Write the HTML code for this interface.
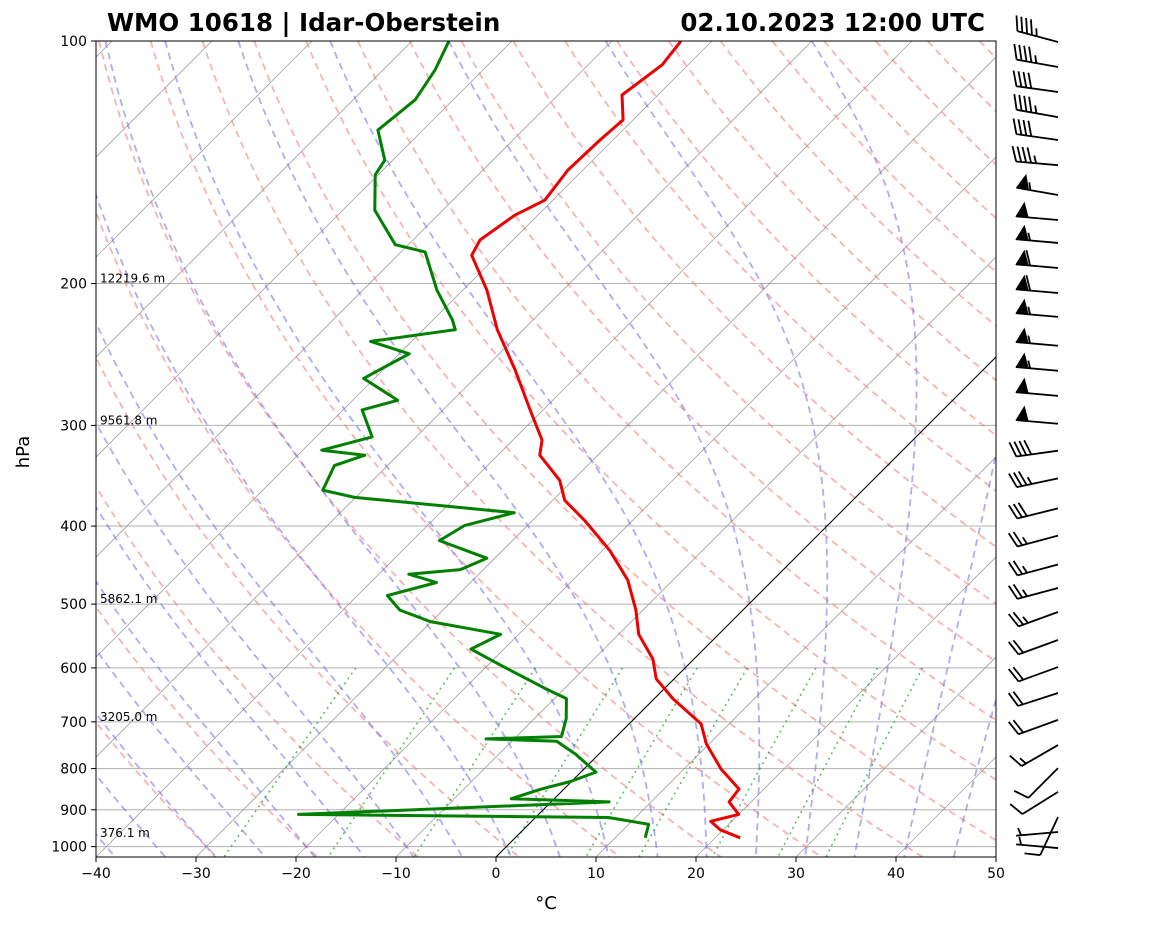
<!DOCTYPE html>
<html><head><meta charset="utf-8">
<style>
html,body{margin:0;padding:0;background:#fff;}
svg text{font-family:"DejaVu Sans","Liberation Sans",sans-serif;}
</style></head>
<body>
<svg id="chart" width="1160" height="925" viewBox="0 0 1160 925" xmlns="http://www.w3.org/2000/svg">
<defs><clipPath id="plotclip"><rect x="96" y="41" width="900" height="816"/></clipPath></defs>
<rect width="1160" height="925" fill="#fff"/>
<g id="bg" clip-path="url(#plotclip)"></g>
<g id="series" clip-path="url(#plotclip)"></g>
<rect x="96" y="41" width="900" height="816" fill="none" stroke="#000" stroke-width="1"/>
<g id="axes"></g>
<g id="barbs"></g>
<text x="107" y="31" font-size="24.5" font-weight="bold">WMO 10618 | Idar-Oberstein</text>
<text x="985" y="31" font-size="24.5" font-weight="bold" text-anchor="end">02.10.2023 12:00 UTC</text>
<text x="0" y="0" font-size="18" text-anchor="middle" transform="translate(29,452) rotate(-90)">hPa</text>
<text x="546" y="909" font-size="18" text-anchor="middle">°C</text>
</svg>
<script>
// ---- data ----
const tempP = [100,107,116.7,125.3,132.7,144.6,157.6,164.5,176.6,184.5,203.8,228.2,256,287,312.8,326.7,351,371.6,393.6,428.7,467,508.6,545,585,619,655.5,704,745,801,848,880,912,930,953,975];
const tempT = [-63.1,-62.6,-63.6,-61,-61.3,-61.5,-60.8,-62.3,-63.3,-62.6,-57.6,-52.6,-46.8,-41.3,-37.1,-35.8,-31.3,-28.8,-24.8,-19.3,-14.5,-10.7,-8,-4.1,-1.8,1.9,7.2,9.7,13.7,17.5,17.8,20,17.9,19.7,22.5];
const dewP = [100,108.6,118.3,129,140.6,146.6,162.2,179,182.7,203.8,221.8,228.2,236,244.5,262.3,279.2,287,310,322,326.7,336.5,361,368.5,385,399.5,417,438.5,453,459,470,488,508.6,525.6,545,568.5,596,637,655,694,730,735,740,768,808,830,848.5,872,880,912,920,938,975];
const dewT = [-86.3,-84.8,-83.8,-84.5,-80.8,-80.3,-76.8,-71.3,-67.6,-62.6,-58.1,-56.8,-64.1,-59,-61.1,-55.5,-58.1,-54.4,-58.1,-53.3,-55.3,-54,-50.1,-32.6,-36.3,-37.3,-30.8,-32.3,-37,-33.4,-37,-34.3,-30.1,-21.8,-23.3,-18.6,-11.8,-8.8,-6.8,-5.5,-12.8,-5.5,-2.3,1.5,-0.1,-2.3,-4.3,5.8,-24,7.3,12,13];
const pressTicks = [100,200,300,400,500,600,700,800,900,1000];
const tempTicks = [-40,-30,-20,-10,0,10,20,30,40,50];
const heightP = [200,300,500,700,975];
const heightLabels = ["12219.6 m","9561.8 m","5862.1 m","3205.0 m","376.1 m"];
const barbP = [100.3,107.7,115.7,124.3,132.7,142.6,155.3,166.8,178.1,191.3,205.5,220,238.9,256.6,275.7,298.6,322.5,349.1,380.3,411.1,446.5,477.5,511.4,554,598.5,644.5,696,748,799,855,919,959,1004];
const barbDir = [285,280,278,280,278,275,280,275,275,275,275,275,275,275,275,275,262,258,256,255,255,255,250,250,250,252,250,240,225,238,205,265,275];
const barbSpd = [45,45,40,45,40,45,55,50,55,60,60,55,55,55,50,50,40,35,30,25,25,25,25,20,20,20,20,15,10,10,10,5,5];

const NS="http://www.w3.org/2000/svg";
const X0=96,X1=996,Y0=41,Y1=857,PTOP=100,PBOT=1030;
function py(p){return Y0+Math.log(p/PTOP)/Math.log(PBOT/PTOP)*(Y1-Y0);}
function tx(T,p){const y=py(p);return X0+(T+40)*10+(Y1-y);}
function el(tag,attrs,parent){const e=document.createElementNS(NS,tag);for(const k in attrs)e.setAttribute(k,attrs[k]);parent.appendChild(e);return e;}
const bg=document.getElementById('bg'),series=document.getElementById('series'),axes=document.getElementById('axes'),barbs=document.getElementById('barbs');
function pathFrom(pts){return pts.map((q,i)=>(i?'L':'M')+q[0].toFixed(1)+' '+q[1].toFixed(1)).join(' ');}
const plevs=[];for(let p=100;p<=1030;p+=5)plevs.push(p);

pressTicks.forEach(p=>{
  const l=el('line',{x1:X0,x2:X1,y1:py(p),y2:py(p),stroke:'#b0b0b0','stroke-width':1},bg);
  
  
});
for(let T=-130;T<=50;T+=10){
  const l=el('line',{x1:tx(T,PBOT),y1:Y1,x2:tx(T,PTOP),y2:Y0,stroke:'#888','stroke-width':0.8,'stroke-opacity':0.8},bg);
  
  
}
for(let th=-30;th<200;th+=10){
  const pts=plevs.map(p=>[tx((th+273.15)*Math.pow(p/1000,0.2857)-273.15,p),py(p)]);
  const e=el('path',{d:pathFrom(pts),fill:'none',stroke:'#f08080','stroke-opacity':0.6,'stroke-width':1.8,'stroke-dasharray':'7,5'},bg);
  
  
}
function es(T){return 6.112*Math.exp(17.67*T/(T+243.5));}
function dTdp(Tc,p){const T=Tc+273.15,rs=0.622*es(Tc)/(p-es(Tc)),Rd=287,Lv=2.501e6,Cp=1005;
  return (1/p)*(Rd*T+Lv*rs)/(Cp+Lv*Lv*rs*0.622/(Rd*T*T));}
for(let T0=-40;T0<=50;T0+=5){
  const pts=[];let T=T0;
  for(let p=1000;p>=100;p-=5){pts.push([tx(T,p),py(p)]);T-=dTdp(T,p)*5;}
  pts.reverse();T=T0;
  for(let p=1000;p<1030;p+=5){T+=dTdp(T,p)*5;pts.push([tx(T,p+5),py(p+5)]);}
  const e=el('path',{d:pathFrom(pts),fill:'none',stroke:'#6a6aee','stroke-opacity':0.55,'stroke-width':1.8,'stroke-dasharray':'7,5'},bg);
  
  
}
[0.0004,0.001,0.002,0.004,0.007,0.01,0.016,0.024,0.032].forEach(w=>{
  const pts=[];
  for(let p=600;p<=1030;p+=10){const e=w*p/(0.622+w);const l=Math.log(e/6.112);const Td=243.5*l/(17.67-l);pts.push([tx(Td,p),py(p)]);}
  const e=el('path',{d:pathFrom(pts),fill:'none',stroke:'#2e9a2e','stroke-opacity':0.7,'stroke-width':1.6,'stroke-dasharray':'2,4'},bg);
  
  
});
const z=el('line',{x1:tx(0,PBOT),y1:Y1,x2:tx(0,PTOP),y2:Y0,stroke:'#000','stroke-width':1},bg);



const tl=el('path',{d:pathFrom(tempP.map((p,i)=>[tx(tempT[i],p),py(p)])),fill:'none',stroke:'#e00','stroke-width':3,'stroke-linejoin':'round'},series);


const dl=el('path',{d:pathFrom(dewP.map((p,i)=>[tx(dewT[i],p),py(p)])),fill:'none',stroke:'#008000','stroke-width':3,'stroke-linejoin':'round'},series);



heightP.forEach((p,i)=>{
  const t=el('text',{x:100,y:py(p)-1,'font-size':12},series);t.textContent=heightLabels[i];
  
  
});

pressTicks.forEach(p=>{
  const y=py(p);
  el('line',{x1:X0-5,x2:X0,y1:y,y2:y,stroke:'#000'},axes);
  const t=el('text',{x:X0-9,y:y+5,'font-size':14,'text-anchor':'end'},axes);t.textContent=p;
  
  
});
tempTicks.forEach(T=>{
  const x=X0+(T+40)*10;
  el('line',{x1:x,x2:x,y1:Y1,y2:Y1+5,stroke:'#000'},axes);
  const t=el('text',{x:x,y:Y1+21,'font-size':14,'text-anchor':'middle'},axes);t.textContent=(T<0?'\u2212'+(-T):T);
  
  
});

barbP.forEach((p,i)=>{
  const ox=1058,oy=py(p),L=42,d=barbDir[i]*Math.PI/180;
  const ux=Math.sin(d),uy=-Math.cos(d);
  const px=-uy,pyv=ux;
  const g=el('g',{stroke:'#000','stroke-width':1.8,fill:'#000'},barbs);
  
  
  el('line',{x1:ox,y1:oy,x2:ox+ux*L,y2:oy+uy*L},g);
  let s=barbSpd[i],pos=L;
  while(s>=50){const a=[ox+ux*pos,oy+uy*pos],b=[ox+ux*(pos-7)+px*14,oy+uy*(pos-7)+pyv*14],c=[ox+ux*(pos-12),oy+uy*(pos-12)];
    el('polygon',{points:a.join(',')+' '+b.join(',')+' '+c.join(','),'stroke-width':1},g);pos-=14;s-=50;}
  while(s>=10){el('line',{x1:ox+ux*pos,y1:oy+uy*pos,x2:ox+ux*(pos+5)+px*15,y2:oy+uy*(pos+5)+pyv*15},g);pos-=5;s-=10;}
  if(s>=5){if(pos===L)pos-=5;el('line',{x1:ox+ux*pos,y1:oy+uy*pos,x2:ox+ux*(pos+2.5)+px*7.5,y2:oy+uy*(pos+2.5)+pyv*7.5},g);}
});
</script>
</body></html>
